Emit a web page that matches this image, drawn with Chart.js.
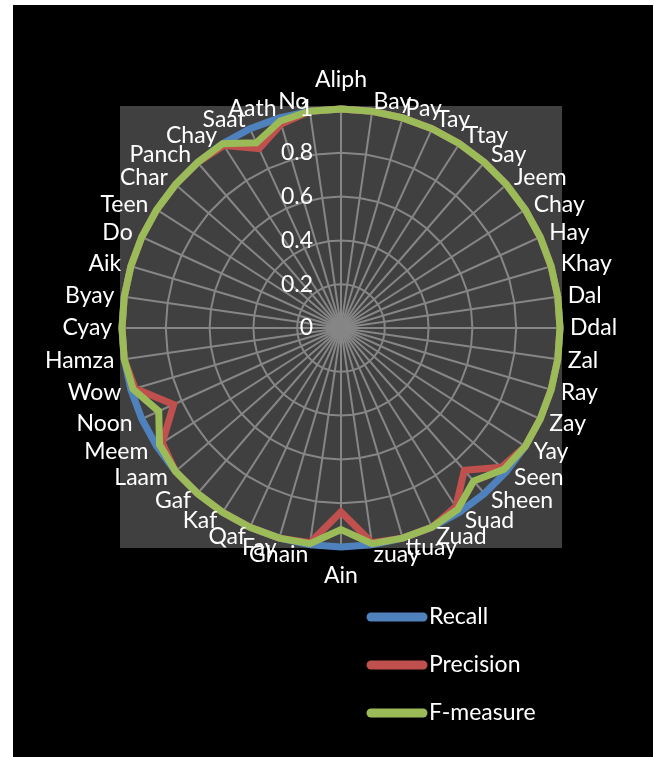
<!DOCTYPE html>
<html>
<head>
<meta charset="utf-8">
<script src="https://cdn.jsdelivr.net/npm/chart.js@4.4.1/dist/chart.umd.min.js"></script>
<style>
  html, body { margin: 0; padding: 0; background: #ffffff; }
  #frame { position: absolute; left: 13px; top: 5px; width: 640px; height: 752px; background: #000000; }
  canvas { display: block; }
</style>
</head>
<body>
<div id="frame"><canvas id="c" width="640" height="752"></canvas></div>
<script>
const categories = ['Aliph','Bay','Pay','Tay','Ttay','Say','Jeem','Chay','Hay','Khay','Dal','Ddal','Zal','Ray','Zay','Yay','Seen','Sheen','Suad','Zuad','ttuay','zuay','Ain','Ghain','Fay','Qaf','Kaf','Gaf','Laam','Meem','Noon','Wow','Hamza','Cyay','Byay','Aik','Do','Teen','Char','Panch','Chay','Saat','Aath','No'];

const recall = [1,1,1,1,1,1,1,1,1,1,1,1,1,1,1,1,1,1,1,1,1,1,1,1,1,1,1,1,1,1,1,1,1,1,1,1,1,1,1,1,1,1,1,1];

const precision = [1,1,1,1,1,1,1,1,1,1,1,1,1,1,1,1,0.97,0.86,0.97,1,1,0.99,0.84,0.99,1,1,1,1,1,0.97,0.84,0.98,1,1,1,1,1,1,1,1,0.99,0.90,0.97,1];

const fmeasure = [1,1,1,1,1,1,1,1,1,1,1,1,1,1,1,1,0.985,0.925,0.985,1,1,0.995,0.92,0.995,1,1,1,1,1,0.985,0.915,0.99,1,1,1,1,1,1,1,1,1,0.93,0.985,1];

const tickLabels = ['0','0.2','0.4','0.6','0.8','1'];
const seriesNames = ['Recall','Precision','F-measure'];
const seriesColors = ['#4f81bd','#c0504d','#9bbb59'];
const tickStep = 0.2;
const FONT = '23px Lato';

const plotBg = {
  id: 'plotBg',
  beforeDraw(chart) {
    const s = chart.scales.r, ctx = chart.ctx, R = s.drawingArea;
    ctx.save();
    ctx.fillStyle = '#404040';
    ctx.fillRect(s.xCenter - R - 2, s.yCenter - R - 3, 2 * R + 4, 2 * R + 4);
    ctx.restore();
  }
};

const labelsPlugin = {
  id: 'labelsPlugin',
  afterDatasetsDraw(chart) {
    const s = chart.scales.r, ctx = chart.ctx, R = s.drawingArea;
    ctx.save();
    ctx.font = FONT;
    ctx.fillStyle = '#ffffff';
    const n = chart.data.labels.length;
    chart.data.labels.forEach((lab, i) => {
      const deg = i * 360 / n;
      let p;
      if (deg === 0) {
        p = s.getPointPosition(i, R + 22);
        ctx.textAlign = 'center'; ctx.textBaseline = 'alphabetic';
      } else if (deg === 180) {
        p = s.getPointPosition(i, R + 36);
        ctx.textAlign = 'center'; ctx.textBaseline = 'alphabetic';
      } else {
        p = s.getPointPosition(i, R + 10);
        ctx.textAlign = deg < 180 ? 'left' : 'right';
        ctx.textBaseline = 'middle';
      }
      ctx.fillText(lab, p.x, p.y);
    });
    // tick labels
    ctx.textAlign = 'right';
    ctx.textBaseline = 'middle';
    s.ticks.forEach((t, k) => {
      const d = s.getDistanceFromCenterForValue(t.value);
      ctx.fillText(tickLabels[k] !== undefined ? tickLabels[k] : t.label, s.xCenter - 28, s.yCenter - d);
    });
    ctx.restore();
  }
};

const legendPlugin = {
  id: 'legendPlugin',
  afterDraw(chart) {
    const ctx = chart.ctx;
    ctx.save();
    ctx.font = FONT;
    ctx.textAlign = 'left';
    ctx.textBaseline = 'middle';
    chart.data.datasets.forEach((ds, i) => {
      const y = 612 + i * 48;
      ctx.strokeStyle = ds.borderColor;
      ctx.lineWidth = 9;
      ctx.lineCap = 'round';
      ctx.beginPath();
      ctx.moveTo(358, y);
      ctx.lineTo(410, y);
      ctx.stroke();
      ctx.fillStyle = '#ffffff';
      ctx.fillText(ds.label, 416, y);
    });
    ctx.restore();
  }
};

new Chart(document.getElementById('c'), {
  type: 'radar',
  data: {
    labels: categories,
    datasets: [recall, precision, fmeasure].map((d, i) => ({
      label: seriesNames[i],
      data: d,
      borderColor: seriesColors[i],
      backgroundColor: 'transparent',
      borderWidth: 7,
      pointRadius: 0,
      pointHoverRadius: 0,
      fill: false,
      clip: false,
      order: 3 - i
    }))
  },
  options: {
    responsive: false,
    animation: false,
    layout: { padding: { left: 109, right: 93, top: 104, bottom: 210 } },
    scales: {
      r: {
        min: 0, max: 1,
        ticks: { stepSize: tickStep, display: false },
        pointLabels: { display: false },
        grid: { color: '#868686', lineWidth: 2 },
        angleLines: { color: '#868686', lineWidth: 2 }
      }
    },
    plugins: { legend: { display: false }, tooltip: { enabled: false } }
  },
  plugins: [plotBg, labelsPlugin, legendPlugin]
});
</script>
</body>
</html>
